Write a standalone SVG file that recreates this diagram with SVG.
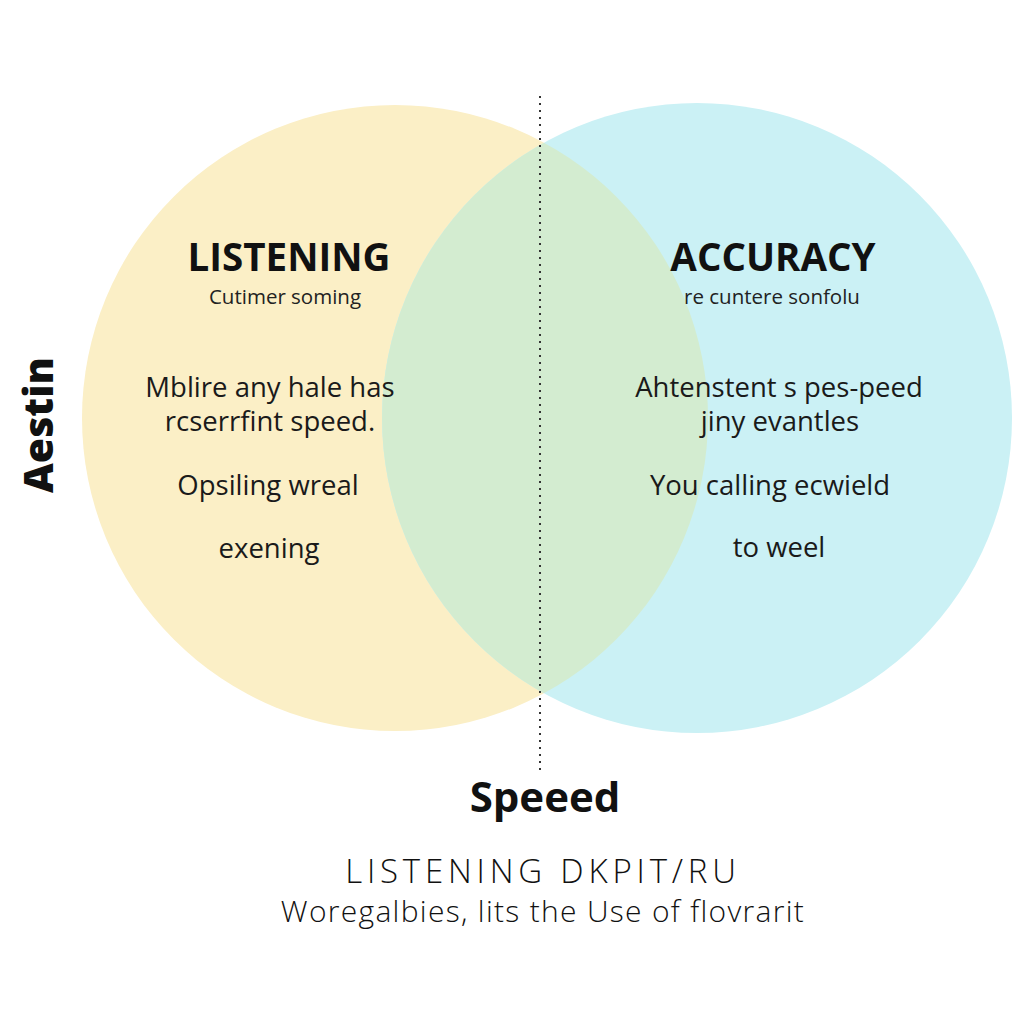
<svg xmlns="http://www.w3.org/2000/svg" width="1024" height="1024" viewBox="0 0 1024 1024">
<defs>
<style>
text{font-family:"Open Sans","Noto Sans","DejaVu Sans",sans-serif;fill:#111;text-anchor:middle}
.title{font-size:38.5px;font-weight:700}
.sub{font-size:20.5px;fill:#222}
.body{font-size:27.5px;fill:#1a1a1a}
.foot{font-weight:300}
</style>
<clipPath id="clipL"><circle cx="395" cy="418" r="313"/></clipPath>
</defs>
<rect width="1024" height="1024" fill="#ffffff"/>
<g id="circle-listening"><circle cx="395" cy="418" r="313" fill="#FBEFC6"/></g>
<g id="circle-accuracy"><circle cx="697" cy="418" r="315" fill="#CBF1F5"/></g>
<g id="overlap"><circle cx="697" cy="418" r="315" fill="#D3ECD0" clip-path="url(#clipL)"/></g>
<g id="connectors"><line x1="540" y1="96" x2="540" y2="772" stroke="#333" stroke-width="2" stroke-dasharray="2,5"/></g>
<g id="node-listening">
<text class="title" x="289" y="271">LISTENING</text>
<text class="sub" x="285" y="304">Cutimer soming</text>
<text class="body" x="270" y="397">Mblire any hale has</text>
<text class="body" x="270" y="431">rcserrfint speed.</text>
<text class="body" x="268" y="495">Opsiling wreal</text>
<text class="body" x="269" y="558">exening</text>
</g>
<g id="node-accuracy">
<text class="title" x="773" y="271">ACCURACY</text>
<text class="sub" x="772" y="304">re cuntere sonfolu</text>
<text class="body" x="779" y="397">Ahtenstent s pes-peed</text>
<text class="body" x="780" y="431">jiny evantles</text>
<text class="body" x="770" y="495">You calling ecwield</text>
<text class="body" x="779" y="557">to weel</text>
</g>
<g id="label-aestin"><text class="title" style="font-size:41px;font-weight:800" transform="translate(53,425) rotate(-90)">Aestin</text></g>
<g id="label-speed"><text x="545" y="812" style="font-size:42px;font-weight:700">Speeed</text></g>
<g id="footer">
<text class="foot" x="543" y="883" style="font-size:33px;letter-spacing:4.8px">LISTENING DKPIT/RU</text>
<text class="foot" x="543" y="922" style="font-size:30px;letter-spacing:1.3px">Woregalbies, lits the Use of flovrarit</text>
</g>
</svg>
